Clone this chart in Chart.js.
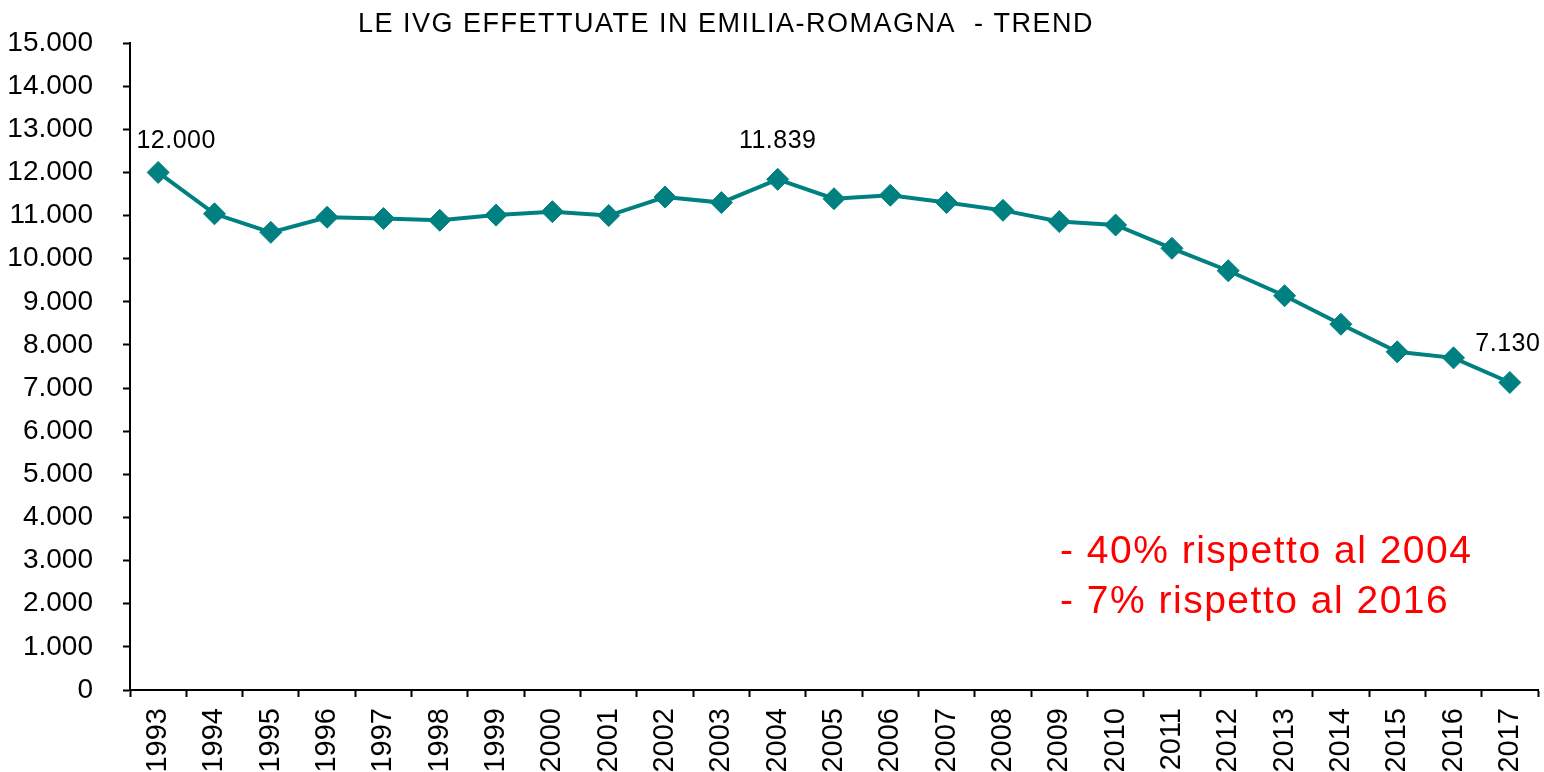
<!DOCTYPE html>
<html>
<head>
<meta charset="utf-8">
<script src="https://cdn.jsdelivr.net/npm/chart.js@4.4.1/dist/chart.umd.min.js"></script>
<style>
  html, body { margin: 0; padding: 0; background: #fff; }
  #wrap { width: 1544px; height: 772px; position: relative; }
</style>
</head>
<body>
<div id="wrap"><canvas id="chart" width="1544" height="772"></canvas></div>
<script>
// dati
const anni = ["1993", "1994", "1995", "1996", "1997", "1998", "1999", "2000", "2001",
  "2002", "2003", "2004", "2005", "2006", "2007", "2008", "2009", "2010", "2011",
  "2012", "2013", "2014", "2015", "2016", "2017"];
const ivg = [12000, 11040, 10610, 10960, 10930, 10890, 11010, 11090, 11000,
  11430, 11300, 11839, 11390, 11470, 11300, 11120, 10860, 10780, 10240,
  9720, 9140, 8480, 7840, 7700, 7130];
const etichette = { 0: "12.000", 11: "11.839", 24: "7.130" }; // valori mostrati sopra i punti
const titolo = "LE IVG EFFETTUATE IN EMILIA-ROMAGNA  - TREND";
const note = ["- 40% rispetto al 2004", "- 7% rispetto al 2016"];

const FONT = "'Liberation Sans', Arial, sans-serif";

function formatta(v) {
  return String(v).replace(/\B(?=(\d{3})+(?!\d))/g, ".");
}

// disegna titolo, etichette dei punti e note in rosso
const testiPlugin = {
  id: "testi",
  afterDatasetsDraw(chart) {
    const ctx = chart.ctx;
    const meta = chart.getDatasetMeta(0);
    ctx.save();

    ctx.fillStyle = "#000";
    ctx.textAlign = "center";
    ctx.textBaseline = "alphabetic";
    ctx.font = "27px " + FONT;
    ctx.letterSpacing = "1.5px";
    ctx.fillText(titolo, 726, 32);

    ctx.font = "25px " + FONT;
    ctx.letterSpacing = "0.5px";
    ctx.textBaseline = "middle";
    const spost = { 0: [18, -31], 11: [0, -38], 24: [-2, -38] };
    Object.keys(etichette).forEach((i) => {
      const p = meta.data[i];
      ctx.fillText(etichette[i], p.x + spost[i][0], p.y + spost[i][1]);
    });

    ctx.fillStyle = "#ff0000";
    ctx.textAlign = "left";
    ctx.textBaseline = "alphabetic";
    ctx.font = "39px " + FONT;
    ctx.letterSpacing = "1.5px";
    ctx.fillText(note[0], 1060, 563);
    ctx.fillText(note[1], 1060, 613);
    ctx.restore();
  },
};

const ctx = document.getElementById("chart").getContext("2d");
new Chart(ctx, {
  type: "line",
  data: {
    labels: anni,
    datasets: [
      {
        label: "IVG",
        data: ivg,
        borderColor: "#008080",
        backgroundColor: "#008080",
        borderWidth: 4,
        pointStyle: "rectRot",
        pointRadius: 11,
        pointBorderWidth: 1,
        pointBackgroundColor: "#008080",
        pointBorderColor: "#008080",
        tension: 0,
      },
    ],
  },
  options: {
    responsive: false,
    animation: false,
    layout: { autoPadding: false, padding: { top: 43, right: 6, left: 0, bottom: 0 } },
    plugins: {
      legend: { display: false },
      title: { display: false },
      tooltip: { enabled: false },
    },
    scales: {
      x: {
        offset: true,
        grid: {
          offset: true,
          drawOnChartArea: false,
          drawTicks: true,
          tickLength: 7,
          tickWidth: 2,
          tickColor: "#000",
        },
        border: { display: true, color: "#000", width: 2 },
        ticks: {
          color: "#000",
          font: { family: FONT, size: 29 },
          minRotation: 90,
          maxRotation: 90,
          padding: 11,
          autoSkip: false,
        },
        afterFit(scale) {
          scale.height = 82;
          scale.paddingLeft = 0;
          scale.paddingRight = 0;
        },
      },
      y: {
        min: 0,
        max: 15000,
        grid: {
          drawOnChartArea: false,
          drawTicks: true,
          tickLength: 7,
          tickWidth: 2,
          tickColor: "#000",
        },
        border: { display: true, color: "#000", width: 2 },
        ticks: {
          stepSize: 1000,
          color: "#000",
          font: { family: FONT, size: 28 },
          padding: 30,
          callback: (v) => formatta(v),
        },
        afterFit(scale) {
          scale.width = 130;
          scale.paddingTop = 0;
          scale.paddingBottom = 0;
        },
      },
    },
  },
  plugins: [testiPlugin],
});
</script>
</body>
</html>
